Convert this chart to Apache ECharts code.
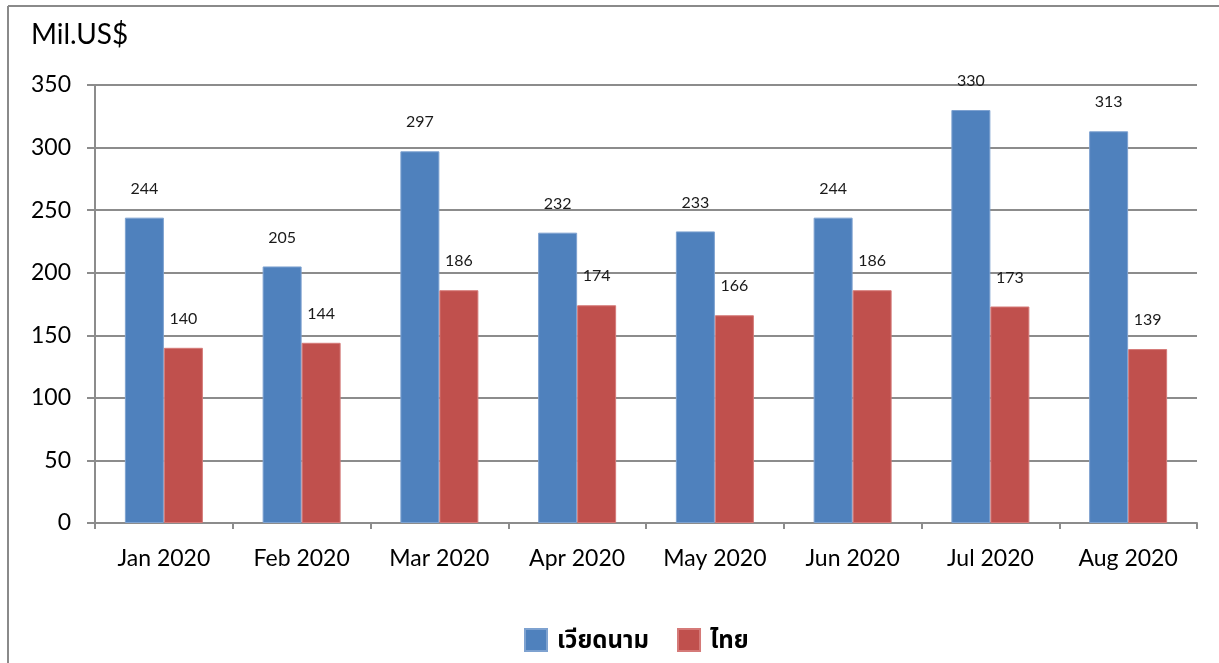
<!DOCTYPE html>
<html>
<head>
<meta charset="utf-8">
<script src="https://cdn.jsdelivr.net/npm/echarts@6/dist/echarts.min.js"></script>
<style>
  html, body { margin: 0; padding: 0; background: #fff; }
  #chart { width: 1219px; height: 663px; }
</style>
</head>
<body>
<div id="chart"></div>
<script>
// Monthly values, million US$
const months = ['Jan 2020', 'Feb 2020', 'Mar 2020', 'Apr 2020', 'May 2020', 'Jun 2020', 'Jul 2020', 'Aug 2020'];
const vietnam = [244, 205, 297, 232, 233, 244, 330, 313];
const thailand = [140, 144, 186, 174, 166, 186, 173, 139];
const seriesNames = ['เวียดนาม', 'ไทย'];
const unitLabel = 'Mil.US$';

const FONT = "Lato, 'Noto Sans Thai', 'Noto Sans', 'DejaVu Sans', sans-serif";
const GRID_COLOR = '#8c8c8c';

const chart = echarts.init(document.getElementById('chart'), null, { renderer: 'canvas' });

const barLabel = {
  show: true,
  position: 'top',
  distance: 21,
  fontSize: 16,
  color: '#1a1a1a',
  fontFamily: FONT
};

chart.setOption({
  animation: false,
  backgroundColor: '#fff',
  textStyle: { fontFamily: FONT },
  graphic: [
    { type: 'line', shape: { x1: 8, y1: 6, x2: 1219, y2: 6 }, style: { stroke: '#8a8a8a', lineWidth: 2 } },
    { type: 'line', shape: { x1: 8, y1: 6, x2: 8, y2: 663 }, style: { stroke: '#8a8a8a', lineWidth: 2 } },
    { type: 'text', left: 31, top: 21, style: { text: unitLabel, fontSize: 28, fill: '#000', fontFamily: FONT } }
  ],
  grid: { left: 95, right: 22, top: 85, bottom: 140 },
  legend: {
    bottom: 6,
    left: 519,
    itemWidth: 22,
    itemHeight: 22,
    itemGap: 28,
    icon: 'rect',
    textStyle: { fontSize: 24, fontWeight: 'bold', color: '#000', fontFamily: FONT, padding: [0, 0, 0, 5] },
    data: seriesNames
  },
  xAxis: {
    type: 'category',
    data: months,
    boundaryGap: true,
    axisLine: { show: true, lineStyle: { color: GRID_COLOR, width: 2 } },
    axisTick: { show: true, length: 6, interval: 0, lineStyle: { color: GRID_COLOR, width: 2 } },
    axisLabel: { fontSize: 23, color: '#000', margin: 24, interval: 0, fontFamily: FONT }
  },
  yAxis: {
    type: 'value',
    min: 0,
    max: 350,
    interval: 50,
    axisLine: { show: true, lineStyle: { color: GRID_COLOR, width: 2 } },
    axisTick: { show: true, length: 8, lineStyle: { color: GRID_COLOR, width: 2 } },
    axisLabel: { fontSize: 23, color: '#000', margin: 24, fontFamily: FONT },
    splitLine: { show: true, lineStyle: { color: GRID_COLOR, width: 2 } }
  },
  series: [
    {
      name: seriesNames[0],
      type: 'bar',
      data: vietnam,
      barWidth: 39,
      barGap: '0%',
      itemStyle: { color: '#4f81bd', borderColor: '#7ea2d0', borderWidth: 1 },
      label: barLabel
    },
    {
      name: seriesNames[1],
      type: 'bar',
      data: thailand,
      barWidth: 39,
      barGap: '0%',
      itemStyle: { color: '#c0504d', borderColor: '#d57a78', borderWidth: 1 },
      label: barLabel
    }
  ]
});
</script>
</body>
</html>
